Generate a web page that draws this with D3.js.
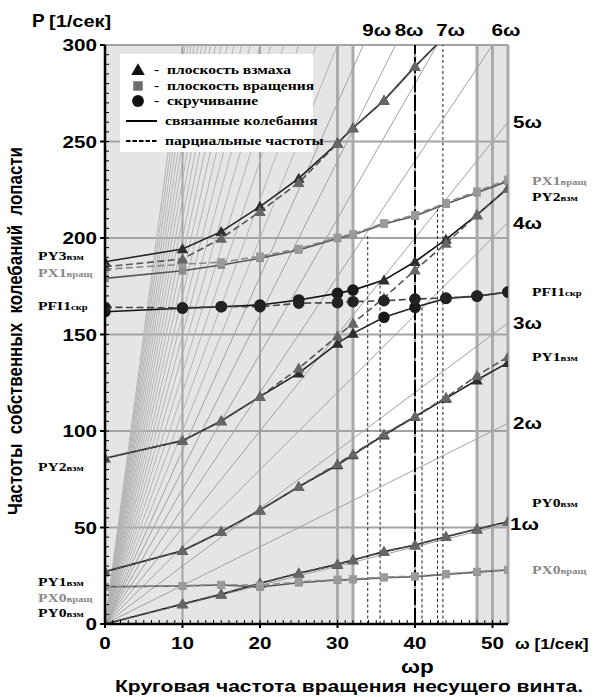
<!DOCTYPE html>
<html><head><meta charset="utf-8">
<script src="https://cdn.jsdelivr.net/npm/d3@7"></script>
<style>body{margin:0;background:#fff}svg{display:block}</style>
</head><body>
<svg id="c" width="593" height="697"></svg>
<script>
// ---------- data ----------
const omega = [0, 10, 15, 20, 25, 30, 32, 36, 40, 44, 48, 52];
// partial frequencies (dashed)
const PY0p  = [0, 10.4, 15.4, 21.0, 26.3, 31.0, 33.2, 37.5, 41.0, 45.2, 49.2, 53.0];
const PY1p  = [27.1, 38.0, 47.8, 59.0, 71.1, 83.0, 88.0, 98.3, 107.6, 117.4, 128.7, 138.5];
const PY2p  = [85.9, 95.0, 105.2, 117.8, 132.5, 149.2, 155.8, 169.0, 183.4, 197.2, 212.0, 225.7];
const PY3p  = [185.1, 189.1, 199.8, 213.7, 228.7, 249.0, 257.0, 271.3, 288.8, 305.0, null, null];
const PX0p  = [19.3, 19.8, 20.4, 20.0, 21.8, 23.1, 23.3, 24.3, 24.8, 26.0, 27.1, 28.2];
const PX1p  = [183.8, 186.4, 187.5, 190.5, 194.5, 200.3, 202.1, 207.8, 212.0, 218.2, 224.2, 230.3];
const PFI1p = [164.1, 163.8, 164.4, 164.4, 166.2, 166.5, 167.0, 167.5, 168.4, 168.9, 169.9, 172.0];
// coupled frequencies (solid)
const PY0c  = [0, 10.4, 15.4, 21.1, 26.3, 30.9, 33.2, 37.5, 40.9, 45.2, 49.2, 53.0];
const PY1c  = [27.1, 38.0, 47.8, 59.0, 71.1, 82.4, 87.6, 97.9, 107.4, 116.9, 126.4, 135.4];
const PX0c  = [19.3, 19.7, 20.2, 19.2, 21.4, 22.8, 23.0, 24.0, 24.5, 25.7, 26.9, 28.0];
const lowC  = [85.9, 95.0, 105.2, 117.8, 130.0, 145.4, 150.6, 158.9, 164.1, 168.7, 169.9, 172.0];
const upC   = [161.8, 163.6, 164.4, 165.3, 167.9, 171.3, 173.0, 178.2, 187.7, 199.3, 212.0, 226.0];
const PX1c  = [179.1, 183.0, 186.0, 189.5, 193.8, 199.8, 201.6, 207.3, 211.4, 217.6, 223.5, 229.5];
const PY3c  = [187.7, 194.3, 203.3, 216.3, 230.9, 249.2, 257.0, 271.3, 288.8, 305.0, null, null];
// marker kinds per point: T triangle, S square, C circle
const lowMarks = "TTTTTTTCCCCC";
const upMarks  = "CCCCCCCTTTTT";
// harmonics n*omega
const harmonics = d3.range(1, 31);
const topHarm = [9, 8, 7, 6];
const rightHarm = [5, 4, 3, 2, 1];
// resonance verticals
const resW = [33.9, 35.5, 40.9, 42.9, 43.6];
const resP = [201, 178, 165, 215, 300];
const omegaR = 40;
// axis ticks
const yTicks = [0, 50, 100, 150, 200, 250, 300];
const xTicks = [0, 10, 20, 30, 40, 50];
// labels
const leftLabels = [
  ["PY3", "взм", 190.5, "#000"], ["PX1", "вращ", 181.7, "#888"], ["PFI1", "скр", 164.8, "#000"],
  ["PY2", "взм", 81.3, "#000"], ["PY1", "взм", 21.9, "#000"], ["PX0", "вращ", 13.6, "#888"],
  ["PY0", "взм", 5.5, "#000"]];
const rightLabels = [
  ["PX1", "вращ", 229.5, "#888"], ["PY2", "взм", 221.4, "#000"], ["PFI1", "скр", 172.2, "#000"],
  ["PY1", "взм", 138.5, "#000"], ["PY0", "взм", 62.7, "#000"], ["PX0", "вращ", 28.0, "#888"]];
const legendItems = ["плоскость взмаха", "плоскость вращения", "скручивание", "связанные колебания", "парциальные частоты"];

// ---------- drawing ----------
const svg = d3.select("#c");
const x = d3.scaleLinear([0, 52], [105, 508]);
const y = d3.scaleLinear([0, 300], [624, 45]);
const SX = 1.25;
const SANS = "Liberation Sans, Arial, sans-serif";
const SERIF = "Liberation Serif, Times New Roman, serif";
function txt(p, tx, ty, size, opts = {}) {
  return p.append("text")
    .attr("transform", `translate(${tx},${ty}) scale(${opts.sx || SX},1)`)
    .attr("text-anchor", opts.anchor || "start")
    .attr("font-family", opts.family || SANS)
    .attr("font-weight", "bold")
    .attr("font-size", size)
    .attr("fill", opts.color || "#000");
}

svg.append("defs").append("clipPath").attr("id", "clip")
  .append("rect").attr("x", x(0)).attr("y", y(300)).attr("width", x(52) - x(0)).attr("height", y(0) - y(300));

const plot = svg.append("g");
// background bands
[[0, 32], [48, 52]].forEach(([a, b]) => {
  plot.append("rect").attr("x", x(a)).attr("y", y(300)).attr("width", x(b) - x(a)).attr("height", y(0) - y(300)).attr("fill", "#e5e5e5");
});
// grid
const grid = plot.append("g").attr("stroke", "#a3a3a3");
[50, 100, 150, 200, 250, 300].forEach(v => grid.append("line").attr("x1", x(0)).attr("x2", x(52)).attr("y1", y(v)).attr("y2", y(v)).attr("stroke-width", 2));
[10, 20, 40].forEach(v => grid.append("line").attr("x1", x(v)).attr("x2", x(v)).attr("y1", y(0)).attr("y2", y(300)).attr("stroke-width", 2));
[30, 32, 48, 50, 52].forEach(v => grid.append("line").attr("x1", x(v)).attr("x2", x(v)).attr("y1", y(0)).attr("y2", y(300)).attr("stroke-width", 3).attr("stroke", "#aaaaaa"));

// harmonic fan
const fan = plot.append("g").attr("clip-path", "url(#clip)");
harmonics.forEach(n => {
  fan.append("line").attr("x1", x(0)).attr("y1", y(0)).attr("x2", x(52)).attr("y2", y(52 * n))
    .attr("stroke", n <= 9 ? "#a0a0a0" : "#b4b4b4").attr("stroke-width", 1);
});

// resonance verticals
resW.forEach((w, i) => {
  plot.append("line").attr("x1", x(w)).attr("x2", x(w)).attr("y1", y(0)).attr("y2", y(resP[i]))
    .attr("stroke", "#222").attr("stroke-width", 1).attr("stroke-dasharray", "3,2.5");
});
plot.append("line").attr("x1", x(omegaR)).attr("x2", x(omegaR)).attr("y1", y(0)).attr("y2", y(300))
  .attr("stroke", "#000").attr("stroke-width", 2).attr("stroke-dasharray", "16,3");

// curves
const curves = plot.append("g").attr("clip-path", "url(#clip)");
const line = d3.line().defined(d => d[1] != null).x(d => x(d[0])).y(d => y(d[1]));
const styles = {
  T: { solid: "#222", dash: "#555", fillS: "#2e2e2e", fillD: "#666" },
  S: { solid: "#555", dash: "#8a8a8a", fillS: "#8c8c8c", fillD: "#9a9a9a" },
  C: { solid: "#111", dash: "#444", fillS: "#1a1a1a", fillD: "#222" }
};
const series = [
  { v: PY0c, m: "T", d: false }, { v: PX0c, m: "S", d: false }, { v: PY1c, m: "T", d: false },
  { v: lowC, m: lowMarks, d: false, col: "#222" }, { v: upC, m: upMarks, d: false, col: "#111" },
  { v: PX1c, m: "S", d: false }, { v: PY3c, m: "T", d: false },
  { v: PY0p, m: "T", d: true }, { v: PX0p, m: "S", d: true }, { v: PY1p, m: "T", d: true },
  { v: PY2p, m: "T", d: true }, { v: PFI1p, m: "C", d: true },
  { v: PX1p, m: "S", d: true }, { v: PY3p, m: "T", d: true }
];
const sym = {
  T: d3.symbol(d3.symbolTriangle, 58),
  S: d3.symbol(d3.symbolSquare, 60),
  C: d3.symbol(d3.symbolCircle, 105)
};
series.forEach(s => {
  const pts = omega.map((w, i) => [w, s.v[i]]);
  const st = styles[s.m[0]];
  curves.append("path").attr("d", line(pts)).attr("fill", "none")
    .attr("stroke", s.col || (s.d ? st.dash : st.solid)).attr("stroke-width", 1.6)
    .attr("stroke-dasharray", s.d ? "7,3.5" : null);
  pts.forEach((p, i) => {
    if (p[1] == null) return;
    const k = s.m.length > 1 ? s.m[i] : s.m;
    const sk = styles[k];
    curves.append("path").attr("d", sym[k]())
      .attr("transform", `translate(${x(p[0])},${y(p[1]) + (k === "T" ? 1 : 0)})`)
      .attr("fill", s.d ? sk.fillD : sk.fillS);
  });
});

// axes
const ax = svg.append("g");
ax.append("line").attr("x1", x(0)).attr("x2", x(0)).attr("y1", y(0) + 1).attr("y2", y(300)).attr("stroke", "#000").attr("stroke-width", 2.5);
ax.append("line").attr("x1", x(0) - 1).attr("x2", x(52)).attr("y1", y(0)).attr("y2", y(0)).attr("stroke", "#000").attr("stroke-width", 2.5);
d3.range(5, 300, 5).forEach(v => ax.append("line").attr("x1", x(0)).attr("x2", x(0) + 4).attr("y1", y(v)).attr("y2", y(v)).attr("stroke", "#000").attr("stroke-width", 1));
d3.range(1, 52, 1).forEach(v => ax.append("line").attr("x1", x(v)).attr("x2", x(v)).attr("y1", y(0)).attr("y2", y(0) - 4).attr("stroke", "#000").attr("stroke-width", 1));
yTicks.forEach(v => {
  ax.append("line").attr("x1", x(0) - 5).attr("x2", x(0)).attr("y1", y(v)).attr("y2", y(v)).attr("stroke", "#000").attr("stroke-width", 2);
  txt(ax, 97, y(v) + 6, 16.5, { anchor: "end" }).text(v);
});
xTicks.forEach(v => {
  ax.append("line").attr("x1", x(v)).attr("x2", x(v)).attr("y1", y(0)).attr("y2", y(0) + 4).attr("stroke", "#000").attr("stroke-width", 2);
  txt(ax, x(v), 649, 16.5, { anchor: "middle" }).text(v);
});

// harmonic labels
topHarm.forEach(n => txt(svg, x(300 / n) - 1, 36, 16.5).text(n + "ω"));
rightHarm.forEach(n => txt(svg, x(52) + (n === 1 ? 2 : 5), y(52 * n) + 6, 16.5).text(n + "ω"));

// curve labels
function clab(l, tx) {
  const t = txt(svg, tx, y(l[2]) + 4, 12.5, { family: SERIF, color: l[3] });
  t.append("tspan").text(l[0]);
  t.append("tspan").attr("font-size", 8.5).text(l[1]);
}
leftLabels.forEach(l => clab(l, 38));
rightLabels.forEach(l => clab(l, 532));

// titles
txt(svg, 32, 27, 19, { sx: 1.0 }).text("P");
txt(svg, 49, 27, 16).text("[1/сек]");
txt(svg, 515, 649, 14.5, { sx: 1.2 }).text("ω [1/сек]");
txt(svg, 401, 673, 18).text("ωр");
txt(svg, 349, 692, 16, { anchor: "middle" }).attr("textLength", 468 / SX).attr("lengthAdjust", "spacingAndGlyphs")
  .text("Круговая частота вращения несущего винта.");
svg.append("text").attr("transform", "translate(22,331) rotate(-90) scale(1,1.25)")
  .attr("text-anchor", "middle").attr("font-family", SANS).attr("font-weight", "bold").attr("font-size", 15.5)
  .attr("textLength", 368).attr("lengthAdjust", "spacingAndGlyphs").style("white-space", "pre")
  .text("Частоты  собственных  колебаний  лопасти");

// legend
const lg = svg.append("g");
lg.append("rect").attr("x", 120).attr("y", 54).attr("width", 193).attr("height", 98).attr("fill", "#fff");
const ly = [70, 86, 101, 121, 141];
lg.append("path").attr("d", d3.symbol(d3.symbolTriangle, 80)()).attr("transform", `translate(138,${ly[0] + 1})`).attr("fill", "#111");
lg.append("path").attr("d", d3.symbol(d3.symbolSquare, 90)()).attr("transform", `translate(138,${ly[1]})`).attr("fill", "#6e6e6e");
lg.append("path").attr("d", d3.symbol(d3.symbolCircle, 110)()).attr("transform", `translate(138,${ly[2]})`).attr("fill", "#111");
lg.append("line").attr("x1", 126).attr("x2", 157).attr("y1", ly[3]).attr("y2", ly[3]).attr("stroke", "#000").attr("stroke-width", 2);
lg.append("line").attr("x1", 126).attr("x2", 157).attr("y1", ly[4]).attr("y2", ly[4]).attr("stroke", "#000").attr("stroke-width", 2).attr("stroke-dasharray", "4.5,2");
legendItems.forEach((s, i) => {
  if (i < 3) txt(lg, 154, ly[i] + 4, 12.5, { family: SERIF }).text("-");
  txt(lg, i < 3 ? 167 : 165, ly[i] + 4, 12.5, { family: SERIF }).text(s);
});
</script>
</body></html>
